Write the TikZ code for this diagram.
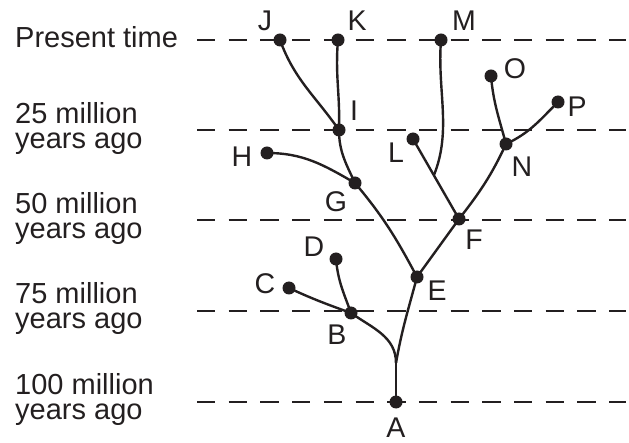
\documentclass[tikz,border=0pt]{standalone}
\usepackage{fontspec}
\setmainfont{Liberation Sans}
\definecolor{ink}{HTML}{231F20}
\begin{document}
\begin{tikzpicture}[x=1pt,y=-1pt,
  dot/.style={circle,fill=ink,inner sep=0pt,minimum size=13pt},
  branch/.style={draw=ink,line width=2.4pt},
  era/.style={draw=ink,line width=1.3pt,dash pattern=on 18.3pt off 13.4pt},
  lbl/.style={text=ink,font=\fontsize{28.5}{24}\selectfont,inner sep=0pt},
  axis/.style={text=ink,font=\fontsize{29}{25}\selectfont,inner sep=0pt,anchor=base west},
]
\useasboundingbox (0,0) rectangle (629,443);
% time lines
\foreach \n/\y in {0/40,1/130,2/220,3/311,4/402}{
  \coordinate (s\n) at (197,\y);
  \coordinate (e\n) at (626,\y);
  \draw[era] (s\n) -- (e\n);
}
% axis labels
\node[axis] (t0) at (15,48) {Present time};
\node[axis] (t1) at (15,124) {\vtop{\baselineskip=25pt\hbox{25 million}\hbox{years ago}}};
\node[axis] (t2) at (15,214) {\vtop{\baselineskip=25pt\hbox{50 million}\hbox{years ago}}};
\node[axis] (t3) at (15,304) {\vtop{\baselineskip=25pt\hbox{75 million}\hbox{years ago}}};
\node[axis] (t4) at (15,394) {\vtop{\baselineskip=25pt\hbox{100 million}\hbox{years ago}}};
% dots
\node[dot] (A) at (396,402) {};
\node[dot] (B) at (351,313) {};
\node[dot] (C) at (289,288) {};
\node[dot] (D) at (336,259) {};
\node[dot] (E) at (417,277) {};
\node[dot] (F) at (459,219) {};
\node[dot] (G) at (355,183) {};
\node[dot] (H) at (267,153) {};
\node[dot] (I) at (339,130) {};
\node[dot] (J) at (280,40) {};
\node[dot] (K) at (338,40) {};
\node[dot] (L) at (413,139) {};
\node[dot] (M) at (441,40) {};
\node[dot] (N) at (506,144) {};
\node[dot] (O) at (491,76) {};
\node[dot] (P) at (558,102) {};
\coordinate (j) at (396,363);
\coordinate (mj) at (434,175);
% branches
\draw[branch] (A.center) -- (j);
\draw[branch] (j) to[out=90,in=-35] (B.center);
\draw[branch] (j) to[out=80,in=-105] (E.center);
\draw[branch] (B.center) to[out=160,in=-25] (C.center);
\draw[branch] (B.center) to[out=110,in=-85] (D.center);
\draw[branch] (E.center) to[out=118,in=-50] (G.center);
\draw[branch] (E.center) -- (F.center);
\draw[branch] (F.center) -- (L.center);
\draw[branch] (M.center) .. controls (437,90) and (452,130) .. (mj);
\draw[branch] (F.center) to[out=52,in=-115] (N.center);
\draw[branch] (N.center) to[out=105,in=-85] (O.center);
\draw[branch] (N.center) to[out=25,in=-135] (P.center);
\draw[branch] (G.center) to[out=150,in=0] (H.center);
\draw[branch] (G.center) to[out=115,in=-90] (I.center);
\draw[branch] (I.center) to[out=88,in=-95] (K.center);
\draw[branch] (I.center) to[out=125,in=-70] (J.center);
% letters
\node[lbl] (lA) at (396,428) {A};
\node[lbl] (lB) at (337,335) {B};
\node[lbl] (lC) at (265,284) {C};
\node[lbl] (lD) at (314,247) {D};
\node[lbl] (lE) at (437,291) {E};
\node[lbl] (lF) at (474,240) {F};
\node[lbl] (lG) at (336,202) {G};
\node[lbl] (lH) at (242,157) {H};
\node[lbl] (lI) at (354,111) {I};
\node[lbl] (lJ) at (265,21) {J};
\node[lbl] (lK) at (357,21) {K};
\node[lbl] (lL) at (396,153) {L};
\node[lbl] (lM) at (464,21) {M};
\node[lbl] (lN) at (522,167) {N};
\node[lbl] (lO) at (515,69) {O};
\node[lbl] (lP) at (577,107) {P};
\end{tikzpicture}
\end{document}
